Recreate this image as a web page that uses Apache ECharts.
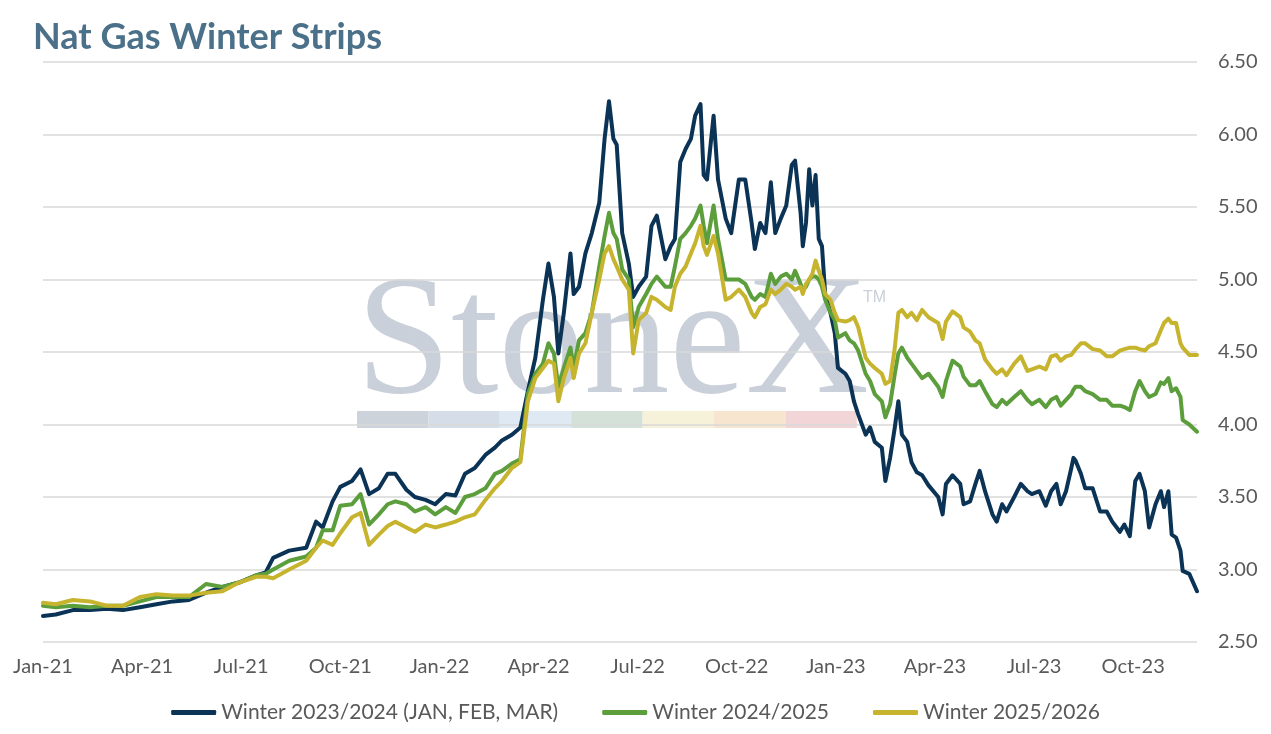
<!DOCTYPE html>
<html>
<head>
<meta charset="utf-8">
<script src="https://cdn.jsdelivr.net/npm/echarts@6/dist/echarts.min.js"></script>
<style>
html,body{margin:0;padding:0;background:#fff;}
#chart{width:1271px;height:734px;}
</style>
</head>
<body>
<div id="chart"></div>
<script>
const titleText = 'Nat Gas Winter Strips';
const seriesNames = ['Winter 2023/2024 (JAN, FEB, MAR)', 'Winter 2024/2025', 'Winter 2025/2026'];
const monthNames = ['Jan','Feb','Mar','Apr','May','Jun','Jul','Aug','Sep','Oct','Nov','Dec'];

const dates = [
'2021-01-01','2021-01-13','2021-01-29','2021-02-13','2021-02-27','2021-03-14','2021-03-30','2021-04-14','2021-04-29','2021-05-14',
'2021-05-30','2021-06-14','2021-06-29','2021-07-15','2021-07-24','2021-07-31','2021-08-15','2021-08-31','2021-09-09','2021-09-15',
'2021-09-24','2021-10-01','2021-10-12','2021-10-20','2021-10-28','2021-11-06','2021-11-14','2021-11-21','2021-12-01','2021-12-09',
'2021-12-19','2021-12-28','2022-01-07','2022-01-16','2022-01-25','2022-02-03','2022-02-12','2022-02-20','2022-02-26','2022-03-07',
'2022-03-15','2022-03-22','2022-03-29','2022-04-05','2022-04-10','2022-04-15','2022-04-19','2022-04-24','2022-04-30','2022-05-03',
'2022-05-08','2022-05-14','2022-05-20','2022-05-27','2022-06-01','2022-06-05','2022-06-09','2022-06-12','2022-06-17','2022-06-23',
'2022-06-27','2022-07-02','2022-07-09','2022-07-14','2022-07-19','2022-07-27','2022-08-01','2022-08-05','2022-08-10','2022-08-15',
'2022-08-20','2022-08-24','2022-08-29','2022-09-01','2022-09-04','2022-09-10','2022-09-14','2022-09-21','2022-09-26','2022-10-03',
'2022-10-09','2022-10-15','2022-10-18','2022-10-23','2022-10-28','2022-11-02','2022-11-06','2022-11-11','2022-11-16','2022-11-21',
'2022-11-24','2022-11-29','2022-12-01','2022-12-04','2022-12-07','2022-12-10','2022-12-13','2022-12-16','2022-12-19','2022-12-22',
'2022-12-27','2022-12-31','2023-01-03','2023-01-10','2023-01-14','2023-01-18','2023-01-22','2023-01-29','2023-02-02','2023-02-06',
'2023-02-12','2023-02-15','2023-02-19','2023-02-23','2023-02-26','2023-03-01','2023-03-06','2023-03-10','2023-03-15','2023-03-20',
'2023-03-26','2023-04-04','2023-04-08','2023-04-11','2023-04-17','2023-04-24','2023-04-27','2023-05-03','2023-05-08','2023-05-12',
'2023-05-17','2023-05-24','2023-05-28','2023-06-02','2023-06-06','2023-06-13','2023-06-19','2023-06-25','2023-06-29','2023-07-06',
'2023-07-12','2023-07-17','2023-07-22','2023-07-26','2023-07-31','2023-08-05','2023-08-07','2023-08-09','2023-08-14','2023-08-18',
'2023-08-25','2023-09-01','2023-09-07','2023-09-12','2023-09-19','2023-09-23','2023-09-28','2023-10-03','2023-10-07','2023-10-12',
'2023-10-16','2023-10-22','2023-10-27','2023-10-30','2023-11-03','2023-11-06','2023-11-10','2023-11-14','2023-11-16','2023-11-22',
'2023-11-29'
];

const winter2324 = [
2.68,2.69,2.72,2.72,2.73,2.72,2.74,2.76,2.78,2.79,
2.84,2.88,2.91,2.96,2.98,3.08,3.13,3.15,3.33,3.29,
3.47,3.57,3.61,3.69,3.52,3.56,3.66,3.66,3.55,3.50,
3.48,3.45,3.52,3.51,3.66,3.70,3.79,3.84,3.89,3.93,
3.98,4.23,4.46,4.86,5.11,4.88,4.49,4.77,5.18,4.90,
4.95,5.18,5.32,5.53,5.97,6.23,5.97,5.93,5.32,5.11,
4.88,4.95,5.02,5.37,5.44,5.14,5.23,5.28,5.81,5.90,
5.97,6.13,6.21,5.72,5.69,6.13,5.69,5.42,5.32,5.69,
5.69,5.39,5.21,5.39,5.32,5.67,5.32,5.42,5.51,5.79,
5.82,5.46,5.23,5.39,5.76,5.51,5.72,5.28,5.23,4.90,
4.77,4.63,4.39,4.35,4.30,4.16,4.07,3.93,3.98,3.88,
3.84,3.61,3.77,3.98,4.16,3.93,3.88,3.74,3.67,3.65,
3.58,3.50,3.38,3.59,3.65,3.59,3.45,3.47,3.59,3.68,
3.54,3.38,3.33,3.45,3.40,3.50,3.59,3.54,3.52,3.54,
3.44,3.54,3.59,3.45,3.54,3.70,3.77,3.75,3.66,3.56,
3.56,3.40,3.40,3.33,3.26,3.31,3.23,3.61,3.66,3.54,
3.29,3.45,3.54,3.43,3.54,3.24,3.22,3.13,2.99,2.97,
2.85
];

const winter2425 = [
2.75,2.74,2.75,2.74,2.75,2.75,2.78,2.81,2.81,2.81,
2.90,2.88,2.91,2.96,2.97,3.00,3.06,3.09,3.15,3.27,
3.27,3.44,3.45,3.52,3.31,3.38,3.45,3.47,3.45,3.40,
3.43,3.38,3.43,3.39,3.50,3.52,3.56,3.66,3.68,3.73,
3.76,4.21,4.35,4.42,4.56,4.49,4.26,4.39,4.53,4.39,
4.58,4.63,4.77,5.09,5.30,5.46,5.32,5.28,5.07,5.00,
4.67,4.81,4.90,4.97,5.02,4.95,4.95,5.09,5.28,5.32,
5.37,5.42,5.51,5.37,5.25,5.51,5.28,5.00,5.00,5.00,
4.97,4.88,4.86,4.90,4.88,5.04,4.97,5.02,5.04,5.00,
5.06,4.97,4.93,4.95,5.00,5.02,5.02,5.00,4.95,4.86,
4.77,4.72,4.60,4.63,4.58,4.56,4.51,4.35,4.30,4.21,
4.16,4.05,4.14,4.35,4.49,4.53,4.46,4.42,4.37,4.32,
4.35,4.26,4.19,4.30,4.44,4.40,4.33,4.27,4.27,4.30,
4.23,4.14,4.12,4.17,4.14,4.19,4.23,4.17,4.14,4.17,
4.12,4.17,4.19,4.13,4.17,4.21,4.24,4.26,4.26,4.23,
4.21,4.17,4.17,4.13,4.13,4.12,4.10,4.23,4.30,4.23,
4.19,4.21,4.29,4.28,4.32,4.23,4.25,4.19,4.03,4.00,
3.95
];

const winter2526 = [
2.77,2.76,2.79,2.78,2.75,2.75,2.81,2.83,2.82,2.82,
2.84,2.85,2.91,2.95,2.95,2.94,3.00,3.06,3.15,3.20,
3.17,3.25,3.36,3.39,3.17,3.24,3.30,3.33,3.29,3.26,
3.31,3.29,3.31,3.33,3.36,3.38,3.48,3.56,3.61,3.70,
3.74,4.16,4.32,4.39,4.44,4.42,4.16,4.32,4.46,4.32,
4.49,4.56,4.77,5.00,5.18,5.23,5.14,5.09,5.00,4.93,
4.49,4.72,4.77,4.88,4.86,4.81,4.79,4.95,5.04,5.09,
5.18,5.25,5.37,5.23,5.17,5.30,5.18,4.86,4.88,4.93,
4.88,4.77,4.74,4.81,4.83,4.93,4.90,4.93,4.97,4.95,
4.93,4.95,4.90,4.97,5.00,5.04,5.13,5.06,5.00,4.90,
4.86,4.77,4.72,4.71,4.72,4.74,4.67,4.46,4.42,4.39,
4.35,4.28,4.30,4.53,4.77,4.79,4.74,4.77,4.72,4.79,
4.74,4.70,4.59,4.71,4.78,4.74,4.67,4.64,4.58,4.56,
4.45,4.38,4.35,4.38,4.34,4.42,4.47,4.37,4.38,4.40,
4.38,4.47,4.48,4.44,4.47,4.48,4.50,4.52,4.56,4.56,
4.52,4.51,4.47,4.47,4.51,4.52,4.53,4.53,4.52,4.51,
4.54,4.56,4.65,4.70,4.73,4.70,4.70,4.56,4.53,4.48,
4.48
];

const yTicks = { min: 2.5, max: 6.5, step: 0.5 };
const seriesColors = ['#0b3356', '#5b9e3b', '#c7b42e'];

// month offset from Jan 2021 (fractional) – used as the x scale
function toMonth(s) {
  const [y, m, d] = s.split('-').map(Number);
  const dim = new Date(y, m, 0).getDate();
  return (y - 2021) * 12 + (m - 1) + (d - 1) / dim;
}
const xs = dates.map(toMonth);
const pairs = arr => arr.map((v, i) => [xs[i], v]);
const allValues = [winter2324, winter2425, winter2526];

const chart = echarts.init(document.getElementById('chart'), null, { renderer: 'canvas' });
const font = 'Lato, "Open Sans", sans-serif';

const stripColors = ['#cdd3da', '#d5dee8', '#dfe9f3', '#d4e1d9', '#f6f2da', '#f7e5cf', '#f2d5d7'];
const watermark = [
  { type: 'text', left: 356, top: 262, z: -10, silent: true,
    style: { text: 'StoneX', fill: '#c9d0d9', font: '171px "Liberation Serif", "DejaVu Serif", serif' } },
  { type: 'text', left: 863, top: 290, z: -10, silent: true,
    style: { text: 'TM', fill: '#c9d0d9', font: '16px "Liberation Sans", sans-serif' } }
].concat(stripColors.map((c, i) => ({
  type: 'rect', z: -10, silent: true,
  shape: { x: 357 + i * 71.4, y: 411, width: 71.4, height: 17 },
  style: { fill: c }
})));

chart.setOption({
  animation: false,
  backgroundColor: '#ffffff',
  title: {
    text: titleText, left: 28, top: 14,
    textStyle: { fontFamily: font, fontSize: 36, fontWeight: 'bold', color: '#4b7089' }
  },
  graphic: watermark,
  legend: {
    bottom: 6, left: 'center', itemWidth: 45, itemHeight: 5, itemGap: 44,
    icon: 'roundRect',
    textStyle: { fontFamily: font, fontSize: 21, color: '#595959' },
    data: seriesNames
  },
  grid: { left: 43, right: 74, top: 62, bottom: 92, outerBoundsMode: 'none' },
  xAxis: {
    type: 'value', min: 0, max: xs[xs.length - 1], interval: 3,
    axisLine: { show: false }, axisTick: { show: false }, splitLine: { show: false },
    axisLabel: {
      showMaxLabel: false, margin: 15,
      fontFamily: font, fontSize: 20, color: '#595959',
      formatter: v => monthNames[Math.round(v) % 12] + '-' + (21 + Math.floor(Math.round(v) / 12))
    }
  },
  yAxis: {
    type: 'value', position: 'right', min: yTicks.min, max: yTicks.max, interval: yTicks.step,
    axisLine: { show: false }, axisTick: { show: false },
    splitLine: { lineStyle: { color: '#d9d9d9', width: 1.5 } },
    axisLabel: { margin: 21, fontFamily: font, fontSize: 20, color: '#595959', formatter: v => v.toFixed(2) }
  },
  series: allValues.map((arr, i) => ({
    name: seriesNames[i], type: 'line', data: pairs(arr),
    showSymbol: false, symbol: 'none',
    lineStyle: { color: seriesColors[i], width: 4, join: 'round', cap: 'round' },
    itemStyle: { color: seriesColors[i] }
  }))
});
</script>
</body>
</html>
